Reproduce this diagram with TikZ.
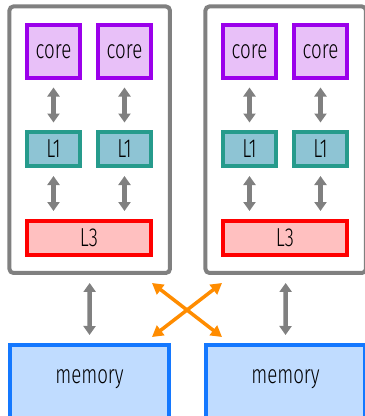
\documentclass[tikz,border=0pt]{standalone}
\usepackage{fontspec}
\setmainfont{Fira Sans}[UprightFont=* Light, FakeStretch=0.72]
\usetikzlibrary{arrows.meta}
\definecolor{corefill}{RGB}{232,192,248}
\definecolor{coredraw}{RGB}{155,0,235}
\definecolor{lonefill}{RGB}{142,196,212}
\definecolor{lonedraw}{RGB}{38,155,140}
\definecolor{lthreefill}{RGB}{255,192,192}
\definecolor{lthreedraw}{RGB}{255,0,0}
\definecolor{memfill}{RGB}{192,220,255}
\definecolor{memdraw}{RGB}{20,120,255}
\definecolor{boxgray}{RGB}{128,128,128}
\definecolor{xorange}{RGB}{255,140,0}
\tikzset{
  base/.style={inner sep=0pt, outer sep=0pt, line width=4pt, font=\fontsize{26}{31}\selectfont},
  corebox/.style={base, draw=coredraw, fill=corefill, minimum width=52.5pt, minimum height=53pt},
  lonebox/.style={base, draw=lonedraw, fill=lonefill, minimum width=52.5pt, minimum height=34pt},
  lthreebox/.style={base, draw=lthreedraw, fill=lthreefill, minimum width=123.5pt, minimum height=34pt},
  membox/.style={base, draw=memdraw, fill=memfill, minimum width=159pt, minimum height=74pt},
  cpubox/.style={base, draw=boxgray, rounded corners=4pt, minimum width=160.5pt, minimum height=266.5pt},
  txt/.style={inner sep=0pt, font=\fontsize{26}{31}\selectfont},
  garrow/.style={draw=boxgray, line width=4.5pt, {Triangle[width=12pt,length=9pt]}-{Triangle[width=12pt,length=9pt]}},
  oarrow/.style={draw=xorange, line width=3.5pt, {Triangle[width=12pt,length=11pt]}-{Triangle[width=12pt,length=11pt]}},
}
\begin{document}
\begin{tikzpicture}[x=1pt,y=-1pt]
\useasboundingbox (0,0) rectangle (365,416);
% CPU boxes
\node[cpubox] (cpuA) at (89.7,139.7) {};
\node[cpubox] (cpuB) at (285.7,139.7) {};
% left CPU
\node[corebox] (cA1) at (53.5,51.5) {core};
\node[corebox] (cA2) at (124.5,51.5) {core};
\node[lonebox] (lA1) at (53.5,149) {L1};
\node[lonebox] (lA2) at (124.5,149) {L1};
\node[lthreebox] (tA) at (89,238) {L3};
% right CPU
\node[corebox] (cB1) at (249.5,51.5) {core};
\node[corebox] (cB2) at (320.5,51.5) {core};
\node[lonebox] (lB1) at (249.5,149) {L1};
\node[lonebox] (lB2) at (320.5,149) {L1};
\node[lthreebox] (tB) at (285,238) {L3};
% memory
\node[membox] (mA) at (89.5,381.5) {};
\node[membox] (mB) at (285.5,381.5) {};
\node[txt, anchor=base] (mAt) at (89.5,383.3) {memory};
\node[txt, anchor=base] (mBt) at (285.5,383.3) {memory};
% arrows inside
\foreach \c/\l in {cA1/lA1, cA2/lA2, cB1/lB1, cB2/lB2} {
  \draw[garrow, shorten <=9.5pt, shorten >=9.5pt] (\c.south) -- (\l.north);
}
\foreach \l/\t in {lA1/tA, lA2/tA, lB1/tB, lB2/tB} {
  \draw[garrow, shorten <=10pt, shorten >=10pt] (\l.south) -- (\l.south |- \t.north);
}
% CPU to memory
\draw[garrow, shorten <=10pt, shorten >=9.5pt] (cpuA.south) -- (mA.north);
\draw[garrow, shorten <=10pt, shorten >=9.5pt] (cpuB.south) -- (mB.north);
% cross arrows
\coordinate (xa) at (152,283);
\coordinate (xb) at (222,337);
\coordinate (xc) at (222,283);
\coordinate (xd) at (152,337);
\draw[oarrow] (xa) -- (xb);
\draw[oarrow] (xc) -- (xd);
\end{tikzpicture}
\end{document}
